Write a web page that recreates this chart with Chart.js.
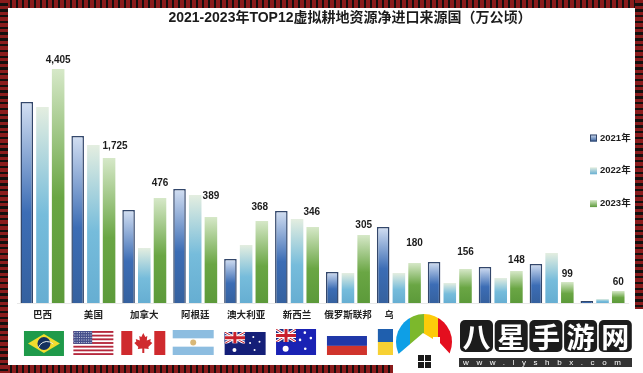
<!DOCTYPE html>
<html lang="zh">
<head>
<meta charset="UTF-8">
<title>虚拟耕地资源净进口来源国</title>
<script src="https://cdn.jsdelivr.net/npm/chart.js"></script>
<style>
    html, body { margin: 0; padding: 0; background: #fff; overflow: hidden; }
    #wrap { position: relative; width: 643px; height: 373px; background: #fff; }
    .band { position: absolute; }
    #top, #bottom { left: 0; width: 643px; height: 8px;
        background: repeating-linear-gradient(90deg, #8a1c1c 0 3.6px, #14100f 3.6px 6px); }
    #top { top: 0; }
    #bottom { top: 365px; }
    #left, #right { top: 0; width: 8px; height: 373px;
        background: repeating-linear-gradient(180deg, #8a1c1c 0 3.4px, #14100f 3.4px 5.8px); }
    #left { left: 0; }
    #right { left: 635px; }
    canvas { position: absolute; left: 0; top: 0; filter: blur(0.3px); }
</style>
</head>
<body>
<div id="wrap">
    <div class="band" id="top"></div>
    <div class="band" id="bottom"></div>
    <div class="band" id="left"></div>
    <div class="band" id="right"></div>
    <canvas id="grafico" width="643" height="373"></canvas>
</div>
<script>
// the picture has no axis and the bars are not linear to the printed numbers,
// so the series hold bar heights read off the image and the printed labels are kept apart
const categories = ['巴西', '美国', '加拿大', '阿根廷', '澳大利亚', '新西兰', '俄罗斯联邦', '乌克兰', '', '', '', ''];
const seriesNames = ['2021年', '2022年', '2023年'];
const values2021 = [201, 167, 93, 114, 44, 92, 31, 76, 41, 36, 39, 2];
const values2022 = [196, 158, 55, 108, 58, 84, 30, 30, 20, 25, 50, 4];
const values2023 = [234, 145, 105, 86, 82, 76, 68, 40, 34, 32, 21, 12];
const labels2023 = ['4,405', '1,725', '476', '389', '368', '346', '305', '180', '156', '148', '99', '60'];
const labelLift = [9, 12, 15, 21, 14, 15, 10, 20, 17, 11, 8, 9];
const labelShift = [0, 6, 0, 0, -2, -1, 0, 0, 0, 0, 0, 0];

const titleText = '2021-2023年TOP12虚拟耕地资源净进口来源国（万公顷）';
const latinCjk = '"Liberation Sans", "Noto Sans CJK SC", sans-serif';

const stops = [
    ['#d3dff2', '#3c6db5', '#35619f'],
    ['#e4eee0', '#76bcdb', '#66aed2'],
    ['#d6e8c8', '#6aa644', '#5c9a3a']
];

function barFill(i) {
    return function (c) {
        const chart = c.chart;
        if (!chart.chartArea || c.parsed === undefined) return stops[i][1];
        const yScale = chart.scales.y;
        const top = yScale.getPixelForValue(c.parsed.y);
        const base = yScale.getPixelForValue(0);
        const g = chart.ctx.createLinearGradient(0, top, 0, base);
        g.addColorStop(0, stops[i][0]);
        g.addColorStop(0.55, stops[i][1]);
        g.addColorStop(1, stops[i][2]);
        return g;
    };
}

function rect(ctx, col, x, y, w, h) {
    ctx.fillStyle = col;
    ctx.fillRect(x, y, w, h);
}

function unionJack(ctx, x, y, w, h) {
    rect(ctx, '#1a2a80', x, y, w, h);
    ctx.save();
    ctx.beginPath();
    ctx.rect(x, y, w, h);
    ctx.clip();
    ctx.strokeStyle = '#fff';
    ctx.lineWidth = 3;
    ctx.beginPath();
    ctx.moveTo(x, y); ctx.lineTo(x + w, y + h);
    ctx.moveTo(x + w, y); ctx.lineTo(x, y + h);
    ctx.stroke();
    ctx.strokeStyle = '#c8202c';
    ctx.lineWidth = 1;
    ctx.stroke();
    rect(ctx, '#fff', x + w / 2 - 2.5, y, 5, h);
    rect(ctx, '#fff', x, y + h / 2 - 2.5, w, 5);
    rect(ctx, '#c8202c', x + w / 2 - 1.5, y, 3, h);
    rect(ctx, '#c8202c', x, y + h / 2 - 1.5, w, 3);
    ctx.restore();
}

function stars(ctx, list, r) {
    ctx.fillStyle = '#fff';
    list.forEach(function (s) {
        ctx.beginPath();
        ctx.arc(s[0], s[1], s[2] || r, 0, Math.PI * 2);
        ctx.fill();
    });
}

const flags = [
    function brazil(ctx, x, y, w, h) {
        rect(ctx, '#1f9a4a', x, y, w, h);
        ctx.fillStyle = '#f2dc2e';
        ctx.beginPath();
        ctx.moveTo(x + 4, y + h / 2);
        ctx.lineTo(x + w / 2, y + 3);
        ctx.lineTo(x + w - 4, y + h / 2);
        ctx.lineTo(x + w / 2, y + h - 3);
        ctx.fill();
        ctx.fillStyle = '#14315f';
        ctx.beginPath();
        ctx.arc(x + w / 2, y + h / 2, 6.5, 0, Math.PI * 2);
        ctx.fill();
        ctx.strokeStyle = '#dfe8e8';
        ctx.lineWidth = 1;
        ctx.beginPath();
        ctx.arc(x + w / 2 + 3, y + h / 2 + 7, 9, Math.PI * 1.1, Math.PI * 1.75);
        ctx.stroke();
    },
    function usa(ctx, x, y, w, h) {
        rect(ctx, '#fff', x, y, w, h);
        for (let i = 0; i < 7; i++) rect(ctx, '#b5283c', x, y + i * h * 2 / 13, w, h / 13);
        rect(ctx, '#46508c', x, y, w * 0.47, h * 7 / 13);
        ctx.fillStyle = '#c8cce0';
        for (let r = 0; r < 5; r++) {
            for (let q = 0; q < 8; q++) ctx.fillRect(x + 1 + q * 2.3, y + 1 + r * 2.5, 1, 1);
        }
    },
    function canada(ctx, x, y, w, h) {
        rect(ctx, '#fff', x, y, w, h);
        rect(ctx, '#cf2a2e', x, y, w * 0.25, h);
        rect(ctx, '#cf2a2e', x + w * 0.75, y, w * 0.25, h);
        const cx = x + w / 2, cy = y + h / 2;
        ctx.fillStyle = '#cf2a2e';
        ctx.beginPath();
        [[0, -10], [2, -6], [4, -7], [3.5, -2.5], [7.5, -4], [7, -1.5], [9, 0], [5, 4], [5.5, 6], [1, 5.5], [1, 10], [-1, 10], [-1, 5.5], [-5.5, 6], [-5, 4], [-9, 0], [-7, -1.5], [-7.5, -4], [-3.5, -2.5], [-4, -7], [-2, -6]]
            .forEach(function (p, i) {
                if (i === 0) ctx.moveTo(cx + p[0], cy + p[1]);
                else ctx.lineTo(cx + p[0], cy + p[1]);
            });
        ctx.fill();
    },
    function argentina(ctx, x, y, w, h) {
        rect(ctx, '#fff', x, y, w, h);
        rect(ctx, '#8dbde0', x, y, w, h / 3);
        rect(ctx, '#8dbde0', x, y + h * 2 / 3, w, h / 3);
        ctx.fillStyle = '#d9b878';
        ctx.beginPath();
        ctx.arc(x + w / 2, y + h / 2, 3, 0, Math.PI * 2);
        ctx.fill();
    },
    function australia(ctx, x, y, w, h) {
        rect(ctx, '#141f78', x, y, w, h);
        unionJack(ctx, x, y, w * 0.5, h * 0.5);
        stars(ctx, [[x + w * 0.24, y + h * 0.78, 2], [x + w * 0.7, y + h * 0.22], [x + w * 0.85, y + h * 0.42], [x + w * 0.62, y + h * 0.48], [x + w * 0.73, y + h * 0.78]], 1);
    },
    function newZealand(ctx, x, y, w, h) {
        rect(ctx, '#1a22b4', x, y, w, h);
        unionJack(ctx, x, y, w * 0.5, h * 0.5);
        stars(ctx, [[x + w * 0.24, y + h * 0.76, 3], [x + w * 0.72, y + h * 0.14], [x + w * 0.87, y + h * 0.35], [x + w * 0.6, y + h * 0.42], [x + w * 0.73, y + h * 0.76]], 1.3);
    },
    function russia(ctx, x, y, w, h) {
        rect(ctx, '#fff', x, y, w, h);
        rect(ctx, '#2038a8', x, y, w, h * 0.52);
        rect(ctx, '#d0342c', x, y + h * 0.52, w, h * 0.48);
    },
    function ukraine(ctx, x, y, w, h) {
        rect(ctx, '#1f5fae', x, y, w, h / 2);
        rect(ctx, '#f7d133', x, y + h / 2, w, h / 2);
    }
];
// x offset from the group centre, top, width, height
const flagBoxes = [
    [1.5, 331, 40, 25], [0, 331, 40, 24], [-1, 331, 44, 24], [-2, 330, 41, 25],
    [-1, 332, 41, 23], [-1, 329, 40, 26], [-1, 336, 40, 19], [-1, 329, 40, 26]
];

function drawWatermark(ctx) {
    rect(ctx, '#fff', 393, 309, 250, 64);
    ctx.save();
    ctx.beginPath();
    ctx.arc(424, 342, 28, 0, Math.PI * 2);
    ctx.clip();
    rect(ctx, '#0e9fe6', 396, 310, 14, 60);
    rect(ctx, '#7cb82c', 410, 310, 14, 60);
    rect(ctx, '#fdcb0a', 424, 310, 14, 60);
    rect(ctx, '#e40e1e', 438, 310, 14, 60);
    ctx.restore();
    ctx.fillStyle = '#fff';
    ctx.beginPath();
    ctx.moveTo(423, 333);
    ctx.lineTo(433, 339);
    ctx.lineTo(433, 337);
    ctx.lineTo(440, 337);
    ctx.lineTo(440, 343);
    ctx.lineTo(452, 356);
    ctx.lineTo(452, 372);
    ctx.lineTo(395, 372);
    ctx.lineTo(395, 357);
    ctx.closePath();
    ctx.fill();
    [[418, 355], [425, 355], [418, 362], [425, 362]].forEach(function (p) {
        rect(ctx, '#1a1a1a', p[0], p[1], 6, 6);
    });
    '八星手游网'.split('').forEach(function (ch, i) {
        const x = 460 + i * 34.7;
        ctx.fillStyle = '#1c1c1c';
        ctx.beginPath();
        ctx.roundRect(x, 320, 33, 32, 5);
        ctx.fill();
        ctx.fillStyle = '#fff';
        ctx.font = 'bold 28px "Noto Sans CJK SC", sans-serif';
        ctx.textAlign = 'center';
        ctx.textBaseline = 'middle';
        ctx.fillText(ch, x + 16.5, 337);
    });
    rect(ctx, '#333', 459, 358, 173, 9);
    ctx.fillStyle = '#fff';
    ctx.font = '8px "Liberation Sans", sans-serif';
    ctx.letterSpacing = '7.6px';
    ctx.textAlign = 'left';
    ctx.fillText('www.lyshbx.com', 463, 363);
    ctx.letterSpacing = '0px';
}

const overlay = {
    id: 'overlay',
    afterDraw(chart) {
        const ctx = chart.ctx;
        const x = chart.scales.x;
        const y = chart.scales.y;
        ctx.save();

        ctx.fillStyle = '#1c1c1c';
        ctx.font = 'bold 14px ' + latinCjk;
        ctx.textAlign = 'center';
        ctx.textBaseline = 'middle';
        ctx.fillText(titleText, 350, 18);

        // printed numbers sit over the 2023 bars
        const meta = chart.getDatasetMeta(2);
        ctx.font = 'bold 10px "Liberation Sans", sans-serif';
        labels2023.forEach(function (txt, i) {
            ctx.fillText(txt, meta.data[i].x + labelShift[i], y.getPixelForValue(values2023[i]) - labelLift[i]);
        });

        // legend
        chart.data.datasets.forEach(function (ds, i) {
            const ly = 138 + i * 32.8;
            const g = ctx.createLinearGradient(0, ly - 3.5, 0, ly + 3.5);
            g.addColorStop(0, stops[i][0]);
            g.addColorStop(1, stops[i][2]);
            ctx.fillStyle = g;
            ctx.fillRect(590, ly - 3.5, 7, 7);
            if (i === 0) {
                ctx.strokeStyle = '#33476b';
                ctx.strokeRect(590.5, ly - 3, 6, 6);
            }
            ctx.fillStyle = '#1c1c1c';
            ctx.font = 'bold 9.5px ' + latinCjk;
            ctx.textAlign = 'left';
            ctx.fillText(ds.label, 600, ly);
        });

        flags.forEach(function (draw, i) {
            const b = flagBoxes[i];
            const cx = x.getPixelForValue(i) + b[0];
            draw(ctx, cx - b[2] / 2, b[1], b[2], b[3]);
        });

        drawWatermark(ctx);
        ctx.restore();
    }
};

new Chart(document.getElementById('grafico'), {
    type: 'bar',
    data: {
        labels: categories,
        datasets: [
            { label: seriesNames[0], data: values2021, backgroundColor: barFill(0), borderColor: '#33476b', borderWidth: 1.5 },
            { label: seriesNames[1], data: values2022, backgroundColor: barFill(1) },
            { label: seriesNames[2], data: values2023, backgroundColor: barFill(2) }
        ]
    },
    options: {
        responsive: false,
        animation: false,
        layout: { padding: { left: 17, right: 15, top: 43, bottom: 0 } },
        datasets: { bar: { categoryPercentage: 0.925, barPercentage: 0.8 } },
        plugins: { legend: { display: false }, title: { display: false }, tooltip: { enabled: false } },
        scales: {
            x: {
                afterFit(s) { s.height = 70; },
                grid: { display: false, drawTicks: false },
                border: { color: '#e8e8e8' },
                ticks: {
                    padding: 6,
                    autoSkip: false,
                    maxRotation: 0,
                    color: '#222',
                    font: { family: '"Noto Sans CJK SC", sans-serif', size: 9.5, weight: 'bold' }
                }
            },
            y: { display: false, min: 0, max: 260 }
        }
    },
    plugins: [overlay]
});
</script>
</body>
</html>
